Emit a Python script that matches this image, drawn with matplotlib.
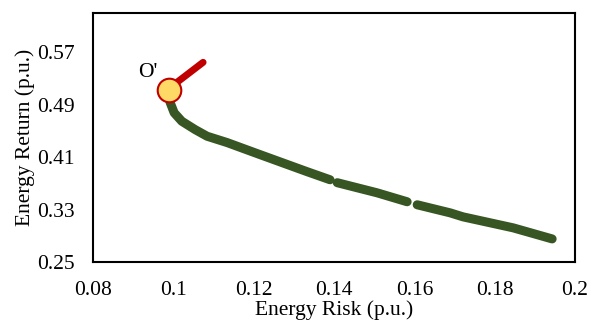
import matplotlib.pyplot as plt
import numpy as np

plt.rcParams['font.family'] = ['Liberation Serif', 'DejaVu Serif']

# Efficient frontier (green), split where the original markers leave gaps
risk_a = [0.0989, 0.0992, 0.1002, 0.1021, 0.1054, 0.1084, 0.1134, 0.1216, 0.1333, 0.1390]
ret_a = [0.5020, 0.4934, 0.4777, 0.4648, 0.4521, 0.4419, 0.4322, 0.4138, 0.3878, 0.3755]
risk_b = [0.1408, 0.1507, 0.1582]
ret_b = [0.3710, 0.3556, 0.3419]
risk_c = [0.1607, 0.1689, 0.1721, 0.1846, 0.1943]
ret_c = [0.3373, 0.3250, 0.3189, 0.3021, 0.2852]

# Red branch above the optimum
risk_red = [0.0989, 0.1012, 0.1074]
ret_red = [0.5125, 0.5256, 0.5547]

# Optimum point O'
opt_risk = 0.0989
opt_ret = 0.5125

xticks = [0.08, 0.1, 0.12, 0.14, 0.16, 0.18, 0.2]
yticks = [0.25, 0.33, 0.41, 0.49, 0.57]

green = '#375623'
red = '#C00000'

fig = plt.figure(figsize=(5.99, 3.23), dpi=100)
ax = fig.add_axes([0.1553, 0.1889, 0.8047, 0.7709])

for xs, ys in [(risk_a, ret_a), (risk_b, ret_b), (risk_c, ret_c)]:
    ax.plot(xs, ys, color=green, linewidth=6.5, solid_capstyle='round', solid_joinstyle='round', zorder=2)
ax.plot(risk_red, ret_red, color=red, linewidth=5, solid_capstyle='round', solid_joinstyle='round', zorder=3)
ax.plot([opt_risk], [opt_ret], 'o', markersize=17, markerfacecolor='#FFD966',
        markeredgecolor=red, markeredgewidth=1.5, zorder=4)
ax.text(opt_risk - 0.0052, opt_ret + 0.027, "O'", fontsize=15.5, ha='center', va='center')

ax.set_xlim(0.08, 0.2)
ax.set_ylim(0.25, 0.63)
ax.set_xticks(xticks)
ax.set_xticklabels(['0.08', '0.1', '0.12', '0.14', '0.16', '0.18', '0.2'])
ax.set_yticks(yticks)
ax.set_yticklabels(['%.2f' % v for v in yticks])
ax.tick_params(axis='both', length=0, labelsize=15.5)
ax.tick_params(axis='x', pad=14)
ax.tick_params(axis='y', pad=13)
for s in ax.spines.values():
    s.set_linewidth(1.5)

ax.set_xlabel('Energy Risk (p.u.)', fontsize=15.5, labelpad=0)
ax.set_ylabel('Energy Return (p.u.)', fontsize=15.5, labelpad=2)

fig.savefig('out.png', dpi=100)
